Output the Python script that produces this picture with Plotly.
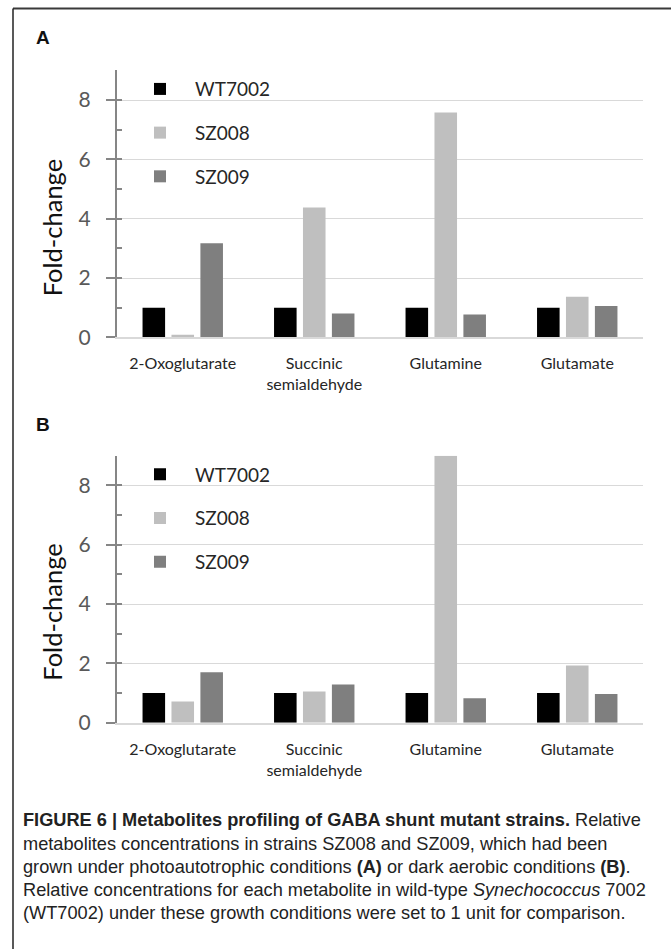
import plotly.graph_objects as go

W, H = 671, 949
FIG_H = 961  # rendered page is captured slightly taller and squeezed to 949

categories = ["2-Oxoglutarate", "Succinic<br>semialdehyde", "Glutamine", "Glutamate"]
series_names = ["WT7002", "SZ008", "SZ009"]
series_colors = ["#000000", "#bfbfbf", "#7f7f7f"]

panelA_wt = [1.0, 1.0, 1.0, 1.0]
panelA_sz008 = [0.09, 4.38, 7.58, 1.37]
panelA_sz009 = [3.17, 0.80, 0.77, 1.06]

panelB_wt = [1.0, 1.0, 1.0, 1.0]
panelB_sz008 = [0.72, 1.05, 9.0, 1.93]
panelB_sz009 = [1.70, 1.29, 0.83, 0.97]

y_ticks = [0, 2, 4, 6, 8]
y_range = [0, 9]

FONT = "Lato"
AXIS_GRAY = "#868686"
GRID = "#d9d9d9"

def py(px):
    return (H - px) / H

fig = go.Figure()

panels = [
    ("x", "y", "legend", [panelA_wt, panelA_sz008, panelA_sz009]),
    ("x2", "y2", "legend2", [panelB_wt, panelB_sz008, panelB_sz009]),
]
for xa, ya, lg, vals in panels:
    for name, col, v in zip(series_names, series_colors, vals):
        fig.add_trace(go.Bar(
            x=categories, y=v, name=name, marker_color=col,
            marker_line_width=0, xaxis=xa, yaxis=ya, legend=lg,
            legendgroup=lg + name, cliponaxis=False,
        ))

# empty helper traces for overlay axes carrying the inside (minor) ticks
fig.add_trace(go.Scatter(x=[], y=[], xaxis="x", yaxis="y3", showlegend=False))
fig.add_trace(go.Scatter(x=[], y=[], xaxis="x2", yaxis="y4", showlegend=False))

xdom = [117 / W, 643 / W]
domA = [py(337), py(337 - 9 * 29.63)]
domB = [py(722), py(722 - 9 * 29.63)]

xcommon = dict(
    domain=xdom, showline=True, linecolor=GRID, linewidth=1.5,
    ticks="", showgrid=False,
    tickfont=dict(family=FONT, size=16, color="#262626"),
    ticklabelstandoff=11,
)
ycommon = dict(
    range=y_range, tickvals=y_ticks, showline=True, linecolor=AXIS_GRAY,
    linewidth=2, ticks="outside", ticklen=9, tickwidth=2, tickcolor=AXIS_GRAY,
    showgrid=True, gridcolor=GRID, gridwidth=1.2, zeroline=False,
    tickfont=dict(family=FONT, size=21, color="#595959"),
    ticklabelstandoff=11, fixedrange=True,
)
yminor = dict(
    range=y_range, dtick=1, tick0=0, ticks="inside", ticklen=5, tickwidth=2,
    tickcolor=AXIS_GRAY, showticklabels=False, showgrid=False, showline=False,
    zeroline=False,
)

leg_common = dict(
    xanchor="left", yanchor="top",
    font=dict(family=FONT, size=19, color="#262626"),
    tracegroupgap=16, itemwidth=60, bgcolor="rgba(0,0,0,0)",
)

fig.update_layout(
    width=W, height=FIG_H,
    margin=dict(l=0, r=0, t=0, b=0),
    paper_bgcolor="white", plot_bgcolor="white",
    barmode="group", bargap=0.34, bargroupgap=0.22,
    xaxis=dict(**xcommon, anchor="y"),
    yaxis=dict(**ycommon, domain=domA, anchor="x"),
    xaxis2=dict(**xcommon, anchor="y2"),
    yaxis2=dict(**ycommon, domain=domB, anchor="x2"),
    yaxis3=dict(**yminor, overlaying="y", anchor="x"),
    yaxis4=dict(**yminor, overlaying="y2", anchor="x2"),
    legend=dict(x=125 / W, y=py(70), **leg_common),
    legend2=dict(x=125 / W, y=py(455), **leg_common),
    showlegend=True,
)

annots = []
for letter, yc in (("A", 37), ("B", 424)):
    annots.append(dict(text="<b>" + letter + "</b>", x=34 / W, y=py(yc), xref="paper", yref="paper",
                       xanchor="left", yanchor="middle", showarrow=False,
                       font=dict(family="Liberation Sans", size=19, color="#111")))
for yc in (228, 612):
    annots.append(dict(text="Fold-change", x=52 / W, y=py(yc), xref="paper", yref="paper",
                       xanchor="center", yanchor="middle", showarrow=False, textangle=-90,
                       font=dict(family=FONT, size=25.5, color="#111")))

caption_lines = [
    "<b>FIGURE 6 | Metabolites profiling of GABA shunt mutant strains.</b> Relative",
    "metabolites concentrations in strains SZ008 and SZ009, which had been",
    "grown under photoautotrophic conditions <b>(A)</b> or dark aerobic conditions <b>(B)</b>.",
    "Relative concentrations for each metabolite in wild-type <i>Synechococcus</i> 7002",
    "(WT7002) under these growth conditions were set to 1 unit for comparison.",
]
caption_y = [819, 843, 866, 889, 912]
for line, yc in zip(caption_lines, caption_y):
    annots.append(dict(text=line, x=21 / W, y=py(yc), xref="paper", yref="paper",
                       xanchor="left", yanchor="middle", showarrow=False,
                       font=dict(family="Liberation Sans", size=18.2, color="#222")))

fig.update_layout(annotations=annots)

# figure frame (top and left edges)
fig.add_shape(type="line", xref="paper", yref="paper", x0=13 / W, x1=1, y0=py(8.5), y1=py(8.5),
              line=dict(color="#3a3a3a", width=2))
fig.add_shape(type="line", xref="paper", yref="paper", x0=13 / W, x1=13 / W, y0=py(8.5), y1=0,
              line=dict(color="#222", width=1.5))

fig.write_html(
    "out.html",
    config={"displayModeBar": False},
    post_script=("document.body.style.margin='0px';"
                 "document.body.style.overflow='hidden';"
                 "document.documentElement.style.overflow='hidden';"),
)
